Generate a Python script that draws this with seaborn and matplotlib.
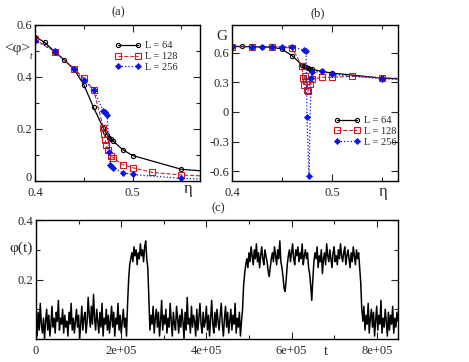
import numpy as np
import seaborn as sns
import matplotlib
matplotlib.use('Agg')
import matplotlib.pyplot as plt
from matplotlib.ticker import MultipleLocator

# %% data
# panel (a): <phi>_t vs eta
a64_eta = [0.40, 0.41, 0.42, 0.43, 0.44, 0.45, 0.46, 0.47, 0.472, 0.474, 0.476, 0.478, 0.48, 0.49, 0.50, 0.55, 0.60]
a64_phi = [0.555, 0.533, 0.498, 0.465, 0.43, 0.37, 0.283, 0.203, 0.19, 0.177, 0.167, 0.16, 0.154, 0.12, 0.098, 0.045, 0.03]
a128_eta = [0.40, 0.42, 0.44, 0.45, 0.46, 0.47, 0.471, 0.472, 0.473, 0.475, 0.4775, 0.48, 0.49, 0.50, 0.52, 0.55, 0.60]
a128_phi = [0.545, 0.498, 0.432, 0.395, 0.35, 0.205, 0.18, 0.158, 0.138, 0.119, 0.096, 0.09, 0.062, 0.051, 0.033, 0.023, 0.015]
a256_eta = [0.40, 0.42, 0.44, 0.45, 0.46, 0.47, 0.472, 0.474, 0.476, 0.477, 0.478, 0.48, 0.49, 0.50, 0.55, 0.60]
a256_phi = [0.54, 0.50, 0.43, 0.39, 0.35, 0.27, 0.265, 0.255, 0.11, 0.062, 0.058, 0.05, 0.032, 0.025, 0.01, 0.005]

# panel (b): G vs eta
b64_eta = [0.40, 0.41, 0.42, 0.43, 0.44, 0.45, 0.46, 0.47, 0.472, 0.474, 0.476, 0.478, 0.48, 0.49, 0.50, 0.55, 0.60]
b64_G = [0.663, 0.663, 0.66, 0.657, 0.655, 0.636, 0.568, 0.477, 0.46, 0.45, 0.44, 0.435, 0.43, 0.41, 0.393, 0.342, 0.32]
b128_eta = [0.40, 0.42, 0.44, 0.46, 0.47, 0.471, 0.472, 0.473, 0.474, 0.475, 0.476, 0.478, 0.48, 0.49, 0.50, 0.52, 0.55, 0.60]
b128_G = [0.66, 0.66, 0.66, 0.647, 0.467, 0.34, 0.27, 0.36, 0.31, 0.22, 0.21, 0.28, 0.33, 0.35, 0.35, 0.36, 0.345, 0.33]
b256_eta = [0.40, 0.42, 0.43, 0.44, 0.45, 0.46, 0.472, 0.474, 0.475, 0.477, 0.479, 0.48, 0.49, 0.50, 0.55, 0.60]
b256_G = [0.66, 0.66, 0.66, 0.66, 0.66, 0.66, 0.625, 0.62, -0.05, -0.65, 0.34, 0.40, 0.41, 0.38, 0.335, 0.32]

# panel (c): phi(t), one value every t_step
t_step = 2500
phi_t = [
    # low
    0.04, 0.01, 0.09, 0.03, 0.12, 0.05, 0.02, 0.07, 0.00, 0.06, 0.10, 0.03, 0.08, 0.01, 0.05, 0.11, 0.04, 0.07, 0.02, 0.09,
    0.06, 0.13, 0.03, 0.07, 0.05, 0.10, 0.02, 0.08, 0.04, 0.06, 0.01, 0.09, 0.05, 0.12, 0.03, 0.07, 0.02, 0.06, 0.10, 0.04,
    0.08, 0.00, 0.05, 0.11, 0.03, 0.07, 0.09, 0.02, 0.06, 0.14, 0.08, 0.04, 0.11, 0.05, 0.15, 0.07, 0.03, 0.10, 0.06, 0.02,
    0.09, 0.04, 0.12, 0.01, 0.07, 0.05, 0.10, 0.03, 0.08, 0.02, 0.06, 0.11, 0.04, 0.09, 0.01, 0.07, 0.05, 0.12, 0.03, 0.08,
    0.02, 0.06, 0.10, 0.04, 0.07, 0.01,
    # rise, high, fall
    0.12, 0.20, 0.25, 0.27,
    0.29, 0.26, 0.31, 0.28, 0.30, 0.25, 0.29, 0.27, 0.32, 0.28, 0.30, 0.26, 0.31, 0.33, 0.27, 0.24,
    0.14,
    # low
    0.03, 0.08, 0.05, 0.11, 0.02, 0.07, 0.10, 0.04, 0.09, 0.01, 0.06, 0.13, 0.03, 0.08, 0.05, 0.10, 0.02, 0.07, 0.04, 0.12,
    0.06, 0.01, 0.09, 0.05, 0.03, 0.11, 0.07, 0.02, 0.08, 0.04, 0.10, 0.06, 0.00, 0.09, 0.03, 0.14, 0.05, 0.07, 0.02, 0.11,
    0.04, 0.08, 0.06, 0.01, 0.10, 0.03, 0.07, 0.12, 0.05, 0.02, 0.09, 0.04, 0.06, 0.11, 0.03, 0.08, 0.01, 0.07, 0.13, 0.05,
    0.02, 0.09, 0.04, 0.10, 0.06, 0.03, 0.08, 0.12, 0.05, 0.01, 0.07, 0.11, 0.04, 0.09, 0.02, 0.06, 0.10, 0.03, 0.08, 0.05,
    0.12, 0.02, 0.07, 0.04, 0.09, 0.01, 0.06,
    # rise, long high with two dips
    0.10, 0.18, 0.22, 0.25,
    0.27, 0.24, 0.29, 0.26, 0.31, 0.28, 0.25, 0.30, 0.27, 0.32, 0.26, 0.29, 0.24, 0.28, 0.31, 0.27, 0.25, 0.30, 0.28, 0.26,
    0.23, 0.21, 0.24, 0.27, 0.29, 0.26, 0.31, 0.28, 0.25, 0.30, 0.27, 0.33, 0.26, 0.24, 0.21, 0.17, 0.16, 0.20, 0.25, 0.28,
    0.30, 0.26, 0.29, 0.32, 0.27, 0.25, 0.30, 0.28, 0.31, 0.26, 0.29, 0.27, 0.32, 0.25, 0.28, 0.30, 0.27, 0.29, 0.24, 0.22,
    0.18, 0.13, 0.20, 0.26, 0.29, 0.27, 0.31, 0.24, 0.28, 0.26, 0.30, 0.22, 0.27, 0.29, 0.25, 0.32, 0.28, 0.26, 0.30, 0.27,
    0.24, 0.29, 0.31, 0.26, 0.28, 0.25, 0.30, 0.27, 0.32, 0.28, 0.26, 0.29, 0.31, 0.25, 0.28, 0.30, 0.27, 0.24, 0.29, 0.26,
    0.31, 0.28, 0.25, 0.30, 0.27, 0.29, 0.24,
    # fall, low
    0.19, 0.10,
    0.06, 0.11, 0.03, 0.08, 0.05, 0.12, 0.02, 0.07, 0.10, 0.04, 0.09, 0.01, 0.06, 0.11, 0.03, 0.08, 0.05, 0.13, 0.02, 0.07,
    0.04, 0.10, 0.06, 0.01, 0.09, 0.03, 0.08, 0.05, 0.11, 0.02, 0.07, 0.04, 0.09, 0.06,
]
t_vals = np.arange(len(phi_t)) * t_step

labels = ['L = 64', 'L = 128', 'L = 256']

# %% style
sns.set_style('ticks')
plt.rcParams['font.family'] = ['Liberation Serif', 'DejaVu Serif']
plt.rcParams['xtick.direction'] = 'in'
plt.rcParams['ytick.direction'] = 'in'
plt.rcParams['axes.linewidth'] = 1.0
plt.rcParams['axes.edgecolor'] = 'black'

RED = '#d01818'
RED_LINE = '#b03030'
BLUE = '#0a14e6'

styles = [
    dict(color='black', linestyle='-', marker='o', markersize=3.0, markerfacecolor='none',
         markeredgecolor='black', markeredgewidth=0.8, linewidth=0.9),
    dict(color=RED_LINE, linestyle='--', marker='s', markersize=3.8, markerfacecolor='none',
         markeredgecolor=RED, markeredgewidth=0.8, linewidth=0.8),
    dict(color=BLUE, linestyle=':', marker='D', markersize=3.1, markerfacecolor=BLUE,
         markeredgecolor=BLUE, markeredgewidth=0.5, linewidth=0.9),
]

fig = plt.figure(figsize=(4.69, 3.62), dpi=100)
ax_a = fig.add_axes([0.0746, 0.50, 0.3518, 0.431])
ax_b = fig.add_axes([0.4947, 0.50, 0.3539, 0.431])
ax_c = fig.add_axes([0.0768, 0.0635, 0.7718, 0.3285])


def finish_ticks(ax):
    ax.tick_params(which='both', top=True, right=True, labelsize=9)
    ax.tick_params(axis='x', pad=4)
    ax.tick_params(axis='y', pad=2)
    ax.tick_params(which='major', length=5, width=0.8)
    ax.tick_params(which='minor', length=3, width=0.8)


# %% panel (a)
for eta, val, lab, st in zip([a64_eta, a128_eta, a256_eta], [a64_phi, a128_phi, a256_phi], labels, styles):
    sns.lineplot(x=eta, y=val, ax=ax_a, sort=False, estimator=None, label=lab, **st)
ax_a.set_xlim(0.4, 0.569)
ax_a.set_ylim(0, 0.6)
ax_a.set_xticks([0.4, 0.5], ['0.4', '0.5'])
ax_a.xaxis.set_minor_locator(MultipleLocator(0.05))
ax_a.set_yticks([0, 0.2, 0.4, 0.6], ['0', '0.2', '0.4', '0.6'])
ax_a.yaxis.set_minor_locator(MultipleLocator(0.1))
finish_ticks(ax_a)
ax_a.get_yticklabels()[0].set_va('baseline')
ax_a.legend(loc='upper left', bbox_to_anchor=(0.45, 0.93), frameon=False, fontsize=7.5,
            numpoints=2, handlelength=2.6, handletextpad=0.3, labelspacing=0.15, borderpad=0)

# %% panel (b)
for eta, val, lab, st in zip([b64_eta, b128_eta, b256_eta], [b64_G, b128_G, b256_G], labels, styles):
    sns.lineplot(x=eta, y=val, ax=ax_b, sort=False, estimator=None, label=lab, **st)
ax_b.set_xlim(0.4, 0.566)
ax_b.set_ylim(-0.7, 0.88)
ax_b.set_xticks([0.4, 0.5], ['0.4', '0.5'])
ax_b.xaxis.set_minor_locator(MultipleLocator(0.05))
ax_b.set_yticks([-0.6, -0.3, 0, 0.3, 0.6], ['-0.6', '-0.3', '0', '0.3', '0.6'])
finish_ticks(ax_b)
ax_b.legend(loc='upper left', bbox_to_anchor=(0.58, 0.45), frameon=False, fontsize=7.5,
            numpoints=2, handlelength=2.6, handletextpad=0.3, labelspacing=0.15, borderpad=0)

# %% panel (c)
sns.lineplot(x=t_vals, y=phi_t, ax=ax_c, sort=False, estimator=None, color='black', linewidth=1.1)
ax_c.set_xlim(0, 8.5e5)
ax_c.set_ylim(0, 0.4)
ax_c.set_xticks([0, 2e5, 4e5, 6e5, 8e5], ['0', '2e+05', '4e+05', '6e+05', '8e+05'])
ax_c.xaxis.set_minor_locator(MultipleLocator(1e5))
ax_c.set_yticks([0.2, 0.4], ['0.2', '0.4'])
ax_c.yaxis.set_minor_locator(MultipleLocator(0.1))
finish_ticks(ax_c)

for ax in (ax_a, ax_b, ax_c):
    ax.set_xlabel('')
    ax.set_ylabel('')

# %% panel titles and axis labels
fig.text(0.2516, 0.967, '(a)', ha='center', va='center', fontsize=9)
fig.text(0.678, 0.964, '(b)', ha='center', va='center', fontsize=9)
fig.text(0.465, 0.425, '(c)', ha='center', va='center', fontsize=9)
fig.text(0.008, 0.865, '<φ>', ha='left', va='center', fontsize=11)
fig.text(0.064, 0.843, 't', ha='left', va='center', fontsize=7, style='italic')
fig.text(0.473, 0.90, 'G', ha='center', va='center', fontsize=11)
fig.text(0.021, 0.315, 'φ(t)', ha='left', va='center', fontsize=11)
fig.text(0.401, 0.478, 'η', ha='center', va='center', fontsize=12)
fig.text(0.817, 0.47, 'η', ha='center', va='center', fontsize=12)
fig.text(0.695, 0.028, 't', ha='center', va='center', fontsize=10)

fig.savefig('out.png', dpi=100)
